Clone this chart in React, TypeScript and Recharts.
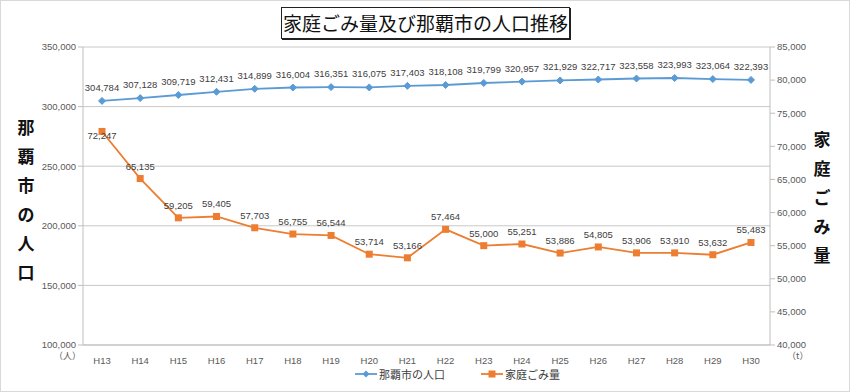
import React from 'react';
import { ComposedChart, Line, XAxis, YAxis, CartesianGrid } from 'recharts';

const years = ['H13','H14','H15','H16','H17','H18','H19','H20','H21','H22','H23','H24','H25','H26','H27','H28','H29','H30'];
const population = [304784,307128,309719,312431,314899,316004,316351,316075,317403,318108,319799,320957,321929,322717,323558,323993,323064,322393];
const waste = [72247,65135,59205,59405,57703,56755,56544,53714,53166,57464,55000,55251,53886,54805,53906,53910,53632,55483];
const leftTicks = [100000,150000,200000,250000,300000,350000];
const rightTicks = [40000,45000,50000,55000,60000,65000,70000,75000,80000,85000];

const data = years.map((y, i) => ({ year: y, population: population[i], waste: waste[i] }));

const BLUE = '#5B9BD5';
const ORANGE = '#ED7D31';
const NUM_FONT = '"Liberation Sans", Arial, sans-serif';
const JP_FONT = '"Noto Sans CJK JP", sans-serif';

const fmt = (v: number) => v.toLocaleString('en-US');

const Diamond = (props: any) => {
  const { cx, cy } = props;
  if (cx == null || cy == null) return null;
  return <path d={`M${cx},${cy - 3.5}L${cx + 3.5},${cy}L${cx},${cy + 3.5}L${cx - 3.5},${cy}Z`} fill={BLUE} stroke={BLUE} />;
};
const Square = (props: any) => {
  const { cx, cy } = props;
  if (cx == null || cy == null) return null;
  return <rect x={cx - 3.5} y={cy - 3.5} width={7} height={7} fill={ORANGE} />;
};

const PopLabel = (props: any) => {
  const { x, y, value } = props;
  return <text x={x} y={y - 10} textAnchor="middle" fontSize={9.5} fill="#404040" fontFamily={NUM_FONT}>{fmt(value)}</text>;
};
const WasteLabel = (props: any) => {
  const { x, y, value, index } = props;
  const dy = index === 0 ? 8 : -9;
  return <text x={x} y={y + dy} textAnchor="middle" fontSize={9.5} fill="#404040" fontFamily={NUM_FONT}>{fmt(value)}</text>;
};

const tickStyle = { fontSize: 9.5, fill: '#595959', fontFamily: NUM_FONT };

const vertical = (chars: string) => chars.split('').map((c, i) => <div key={i} style={{ height: 29, lineHeight: '29px' }}>{c}</div>);

export default function App() {
  return (
    <div style={{ position: 'fixed', left: 0, top: 0, width: 850, height: 392, background: '#fff', overflow: 'hidden' }}>
      <div style={{ position: 'absolute', left: 0, top: 0, width: 848, height: 390, border: '1px solid #d9d9d9' }} />
      <ComposedChart width={850} height={392} data={data} margin={{ top: 47, right: 0, left: 0, bottom: 27 }}>
        <CartesianGrid vertical={false} stroke="#c8c8c8" yAxisId="left" />
        <XAxis dataKey="year" tick={tickStyle} tickLine={false} axisLine={{ stroke: '#bfbfbf' }} height={20} tickMargin={6} padding={{ left: 19, right: 19 }} />
        <YAxis yAxisId="left" orientation="left" width={83} domain={[100000, 350000]} ticks={leftTicks}
          tickFormatter={fmt} tick={tickStyle} axisLine={{ stroke: '#bfbfbf' }} tickLine={{ stroke: '#bfbfbf' }} tickSize={5} />
        <YAxis yAxisId="right" orientation="right" width={80} domain={[40000, 85000]} ticks={rightTicks}
          tickFormatter={fmt} tick={tickStyle} axisLine={{ stroke: '#bfbfbf' }} tickLine={{ stroke: '#bfbfbf' }} tickSize={5} />
        <Line yAxisId="left" dataKey="population" stroke={BLUE} strokeWidth={1.8} dot={<Diamond />} isAnimationActive={false} label={<PopLabel />} />
        <Line yAxisId="right" dataKey="waste" stroke={ORANGE} strokeWidth={1.8} dot={<Square />} isAnimationActive={false} label={<WasteLabel />} />
      </ComposedChart>

      <div style={{ position: 'absolute', left: 281, top: 7, width: 287, height: 30, border: '1px solid #222', boxShadow: '1px 1px 0 #222', fontFamily: JP_FONT, fontSize: 19, lineHeight: '30px', textAlign: 'center', color: '#111', whiteSpace: 'nowrap' }}>
        家庭ごみ量及び那覇市の人口推移
      </div>

      <div style={{ position: 'absolute', left: 12, top: 112, width: 28, textAlign: 'center', fontFamily: JP_FONT, fontSize: 17, fontWeight: 700, color: '#111' }}>
        {vertical('那覇市の人口')}
      </div>
      <div style={{ position: 'absolute', left: 808, top: 124, width: 28, textAlign: 'center', fontFamily: JP_FONT, fontSize: 17, fontWeight: 700, color: '#111' }}>
        {vertical('家庭ごみ量')}
      </div>

      <div style={{ position: 'absolute', left: 54, top: 349, fontFamily: JP_FONT, fontSize: 9, color: '#595959' }}>（人）</div>
      <div style={{ position: 'absolute', left: 787, top: 349, fontFamily: JP_FONT, fontSize: 9, color: '#595959' }}>（t）</div>

      <div style={{ position: 'absolute', left: 355, top: 366, display: 'flex', alignItems: 'center', fontFamily: JP_FONT, fontSize: 11, color: '#404040' }}>
        <svg width={22} height={10}>
          <line x1={0} y1={5} x2={22} y2={5} stroke={BLUE} strokeWidth={1.8} />
          <path d="M11,1.5L14.5,5L11,8.5L7.5,5Z" fill={BLUE} />
        </svg>
        <span style={{ marginLeft: 2 }}>那覇市の人口</span>
        <svg width={22} height={10} style={{ marginLeft: 36 }}>
          <line x1={0} y1={5} x2={22} y2={5} stroke={ORANGE} strokeWidth={1.8} />
          <rect x={7.5} y={1.5} width={7} height={7} fill={ORANGE} />
        </svg>
        <span style={{ marginLeft: 2 }}>家庭ごみ量</span>
      </div>
    </div>
  );
}
